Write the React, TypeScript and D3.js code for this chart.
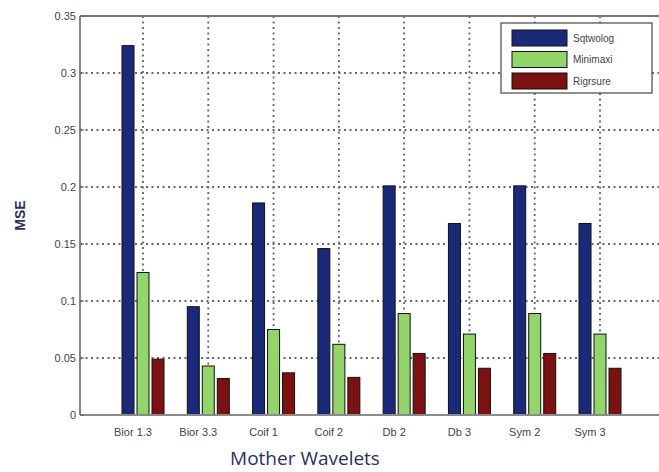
import React from 'react';
import * as d3 from 'd3';

// values
const categories = ['Bior 1.3', 'Bior 3.3', 'Coif 1', 'Coif 2', 'Db 2', 'Db 3', 'Sym 2', 'Sym 3'];
const seriesNames = ['Sqtwolog', 'Minimaxi', 'Rigrsure'];
const sqtwolog = [0.324, 0.095, 0.186, 0.146, 0.201, 0.168, 0.201, 0.168];
const minimaxi = [0.125, 0.043, 0.075, 0.062, 0.089, 0.071, 0.089, 0.071];
const rigrsure = [0.049, 0.032, 0.037, 0.033, 0.054, 0.041, 0.054, 0.041];
const yTicks = [0, 0.05, 0.1, 0.15, 0.2, 0.25, 0.3, 0.35];
const yTickLabels = ['0', '0.05', '0.1', '0.15', '0.2', '0.25', '0.3', '0.35'];

const seriesValues = [sqtwolog, minimaxi, rigrsure];
const colors = ['#1b2a78', '#94d56b', '#7b1111'];

const width = 659;
const height = 472;
const left = 80;
const top = 16;
const bottom = 415;

export default function App() {
  const x = d3.scalePoint<string>().domain(categories).range([143, 600]);
  const xInner = d3.scaleBand<string>().domain(seriesNames).range([-21, 21]).paddingInner(0.2);
  const y = d3.scaleLinear().domain([0, 0.35]).range([bottom, top]);
  const grid = '#666';

  return (
    <svg width={width} height={height} style={{ position: 'absolute', left: 0, top: 0, background: '#fff' }}
      fontFamily="'Liberation Sans', Arial, sans-serif">
      {/* horizontal grid */}
      {yTicks.slice(1, -1).map((t) => (
        <line key={'hg' + t} x1={left} x2={width} y1={y(t)} y2={y(t)}
          stroke={grid} strokeWidth={1.8} strokeDasharray="2,3.5" />
      ))}
      {/* vertical grid */}
      {categories.map((c) => (
        <line key={'vg' + c} x1={x(c)} x2={x(c)} y1={top} y2={bottom}
          stroke={grid} strokeWidth={1.8} strokeDasharray="2,3.5" />
      ))}
      {/* bars */}
      {categories.map((c, i) => (
        <g key={'g' + c} transform={`translate(${x(c)},0)`}>
          {seriesNames.map((s, j) => (
            <rect key={s} x={xInner(s)} width={xInner.bandwidth()}
              y={y(seriesValues[j][i])} height={y(0) - y(seriesValues[j][i])}
              fill={colors[j]} stroke="#111" strokeWidth={1} />
          ))}
        </g>
      ))}
      {/* axes frame */}
      <line x1={left} x2={left} y1={top} y2={bottom} stroke="#777" strokeWidth={1.8} />
      <line x1={left} x2={width} y1={top} y2={top} stroke="#777" strokeWidth={1.8} />
      <line x1={left} x2={width} y1={bottom} y2={bottom} stroke="#8a8a8a" strokeWidth={2.2} />
      {/* y ticks */}
      {yTicks.map((t, i) => (
        <g key={'yt' + t}>
          <line x1={left} x2={left + 4} y1={y(t)} y2={y(t)} stroke="#666" strokeWidth={1.2} />
          <text x={left - 4} y={y(t)} dy="0.35em" textAnchor="end" fontSize={11} fill="#444">
            {yTickLabels[i]}
          </text>
        </g>
      ))}
      {/* x tick labels */}
      {categories.map((c) => (
        <text key={'xl' + c} x={(x(c) as number) - 10} y={436} textAnchor="middle" fontSize={11} fill="#444">
          {c}
        </text>
      ))}
      {/* axis titles */}
      <text transform={`translate(25,${(top + bottom) / 2}) rotate(-90)`} textAnchor="middle"
        fontSize={14} fontWeight="bold" fill="#2a3060">MSE</text>
      <text x={305} y={465} textAnchor="middle" fontSize={19} fill="#2a3060"
        fontFamily="'Open Sans', 'DejaVu Sans', sans-serif">Mother Wavelets</text>
      {/* legend */}
      <g>
        <rect x={501} y={23} width={151} height={70} fill="#fff" stroke="#555" strokeWidth={1.3} />
        {seriesNames.map((s, j) => (
          <g key={'lg' + s} transform={`translate(512,${30 + j * 21.5})`}>
            <rect width={55} height={16} fill={colors[j]} stroke="#111" strokeWidth={1} />
            <text x={61} y={8} dy="0.35em" fontSize={10} fill="#444">{s}</text>
          </g>
        ))}
      </g>
    </svg>
  );
}
